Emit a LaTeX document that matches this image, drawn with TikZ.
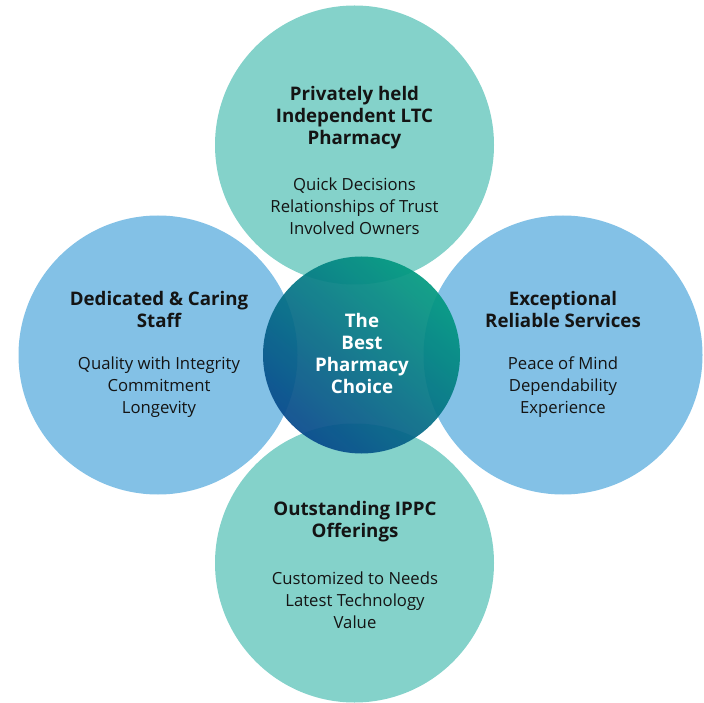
\documentclass[tikz,border=0pt]{standalone}
\usepackage{fontspec}
\setmainfont{Open Sans}
\usetikzlibrary{positioning}
\definecolor{tealpale}{HTML}{84D2CA}
\definecolor{bluepale}{HTML}{83C1E6}
\definecolor{coreteal}{HTML}{039A80}
\definecolor{coreblue}{HTML}{084A8C}
\definecolor{inktext}{HTML}{141414}

\begin{document}
\begin{tikzpicture}[x=1pt, y=-1pt,
    petal/.style={circle, minimum size=279pt, inner sep=0pt},
    head/.style={font=\fontsize{18.7}{22}\selectfont\bfseries, align=center, text=inktext},
    body/.style={font=\fontsize{16.7}{22}\selectfont, align=center, text=inktext}]
  \useasboundingbox (0,0) rectangle (704,703);

  % --- Positions ---
  \coordinate (top) at (354.5,145);
  \coordinate (left) at (158,355);
  \coordinate (right) at (563,355);
  \coordinate (bottom) at (354.5,563);
  \coordinate (core) at (361.5,355);

  % --- Outer circles ---
  \node[petal, fill=tealpale] (ctop) at (top) {};
  \node[petal, fill=bluepale] (cleft) at (left) {};
  \node[petal, fill=bluepale] (cright) at (right) {};
  \node[petal, fill=tealpale] (cbottom) at (bottom) {};

  % --- Central circle, shaded and see-through ---
  \node[circle, minimum size=197pt, inner sep=0pt, fill opacity=0.93,
        top color=coreteal, bottom color=coreblue, shading angle=-40] (ccore) at (core) {};

  % --- Labels ---
  \node[head] (htop) at (354.5,118) {Privately held\\Independent LTC\\Pharmacy};
  \node[body] (btop) at (354.5,206) {Quick Decisions\\Relationships of Trust\\Involved Owners};

  \node[head] (hleft) at (159,309) {Dedicated \& Caring\\Staff};
  \node[body] (bleft) at (159,387) {Quality with Integrity\\Commitment\\Longevity};

  \node[head] (hright) at (563,309) {Exceptional\\Reliable Services};
  \node[body] (bright) at (563,387) {Peace of Mind\\Dependability\\Experience};

  \node[head] (hbottom) at (355,522) {Outstanding IPPC\\Offerings};
  \node[body] (bbottom) at (355,600) {Customized to Needs\\Latest Technology\\Value};

  \node[head, text=white] (hcore) at (362,353) {The\\Best\\Pharmacy\\Choice};
\end{tikzpicture}
\end{document}
